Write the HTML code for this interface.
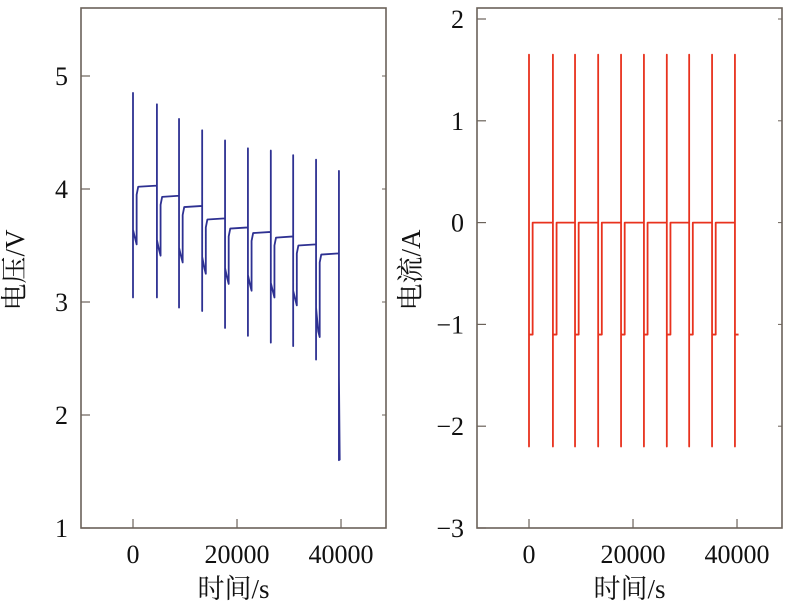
<!DOCTYPE html>
<html><head><meta charset="utf-8">
<style>
html,body{margin:0;padding:0;background:#fff;}
svg{display:block;}
text{font-family:"Liberation Serif","Noto Serif CJK SC",serif;fill:#111;}
</style></head>
<body>
<svg id="c" width="791" height="611"></svg>
<script>
const pulseTimes=[0,4600,8850,13300,17700,22100,26500,30800,35200,39600];
const vPeaks=[4.85,4.75,4.62,4.52,4.43,4.36,4.34,4.30,4.26,4.16];
const vMins=[3.04,3.04,2.95,2.92,2.77,2.70,2.64,2.61,2.49,1.6];
const vStarts=[3.64,3.55,3.48,3.40,3.30,3.24,3.17,3.10,2.95,2.35];
const vDips=[3.51,3.41,3.35,3.25,3.16,3.10,3.04,2.97,2.69,1.6];
const vRest=[4.03,3.94,3.85,3.74,3.66,3.62,3.58,3.51,3.43];
const iPeak=1.65, iMin=-2.2, iDis=-1.1, iRest=0;
const xTicks=[0,20000,40000];
const vTicks=[1,2,3,4,5];
const iTicks=[-3,-2,-1,0,1,2];
const dischargeLen=700;
const lastDischargeLen=150;

const NS="http://www.w3.org/2000/svg";
const svg=document.getElementById('c');
function mk(tag,attrs,parent){const e=document.createElementNS(NS,tag);for(const k in attrs)e.setAttribute(k,attrs[k]);(parent||svg).appendChild(e);return e;}
function lin(d0,d1,r0,r1){return v=>r0+(v-d0)*(r1-r0)/(d1-d0);}
const axisCol="#6b625a";

function panel(name,L,R,T,B,xs,ys,yTicks,title,color,pts){
  const g=mk('g',{});
  
  
  const box=mk('rect',{x:L,y:T,width:R-L,height:B-T,fill:'none',stroke:axisCol,'stroke-width':1.6},g);
  
  
  yTicks.forEach(v=>{
    const y=ys(v);
    const t=mk('line',{x1:L,x2:L+9,y1:y,y2:y,stroke:axisCol,'stroke-width':1.2},g);
    
    
    mk('line',{x1:R,x2:R-4,y1:y,y2:y,stroke:axisCol,'stroke-width':1},g);
    const tx=mk('text',{x:L-13,y:y+9,'font-size':26,'text-anchor':'end'},g);
    tx.textContent=String(v).replace('-','−');
    
    
  });
  xTicks.forEach(v=>{
    const x=xs(v);
    const t=mk('line',{x1:x,x2:x,y1:B,y2:B-9,stroke:axisCol,'stroke-width':1.2},g);
    
    
    const tx=mk('text',{x:x,y:B+35,'font-size':26,'text-anchor':'middle'},g);
    tx.textContent=v;
    
    
  });
  const xt=mk('text',{x:(L+R)/2,y:B+70,'font-size':27,'text-anchor':'middle'},g);
  xt.textContent='时间/s';
  
  
  const cy=(T+B)/2+2, cx=L-57;
  const yt=mk('text',{x:cx,y:cy,'font-size':27,'text-anchor':'middle',transform:`rotate(-90 ${cx} ${cy})`},g);
  yt.textContent=title;
  
  
  const d=pts.map((p,i)=>(i?'L':'M')+xs(p[0]).toFixed(2)+','+ys(p[1]).toFixed(2)).join(' ');
  const path=mk('path',{d:d,fill:'none',stroke:color,'stroke-width':1.8,'stroke-linejoin':'round'},g);
  
  
}

const vp=[];
pulseTimes.forEach((t,i)=>{
  if(i===0){vp.push([t,4.15]);}
  else vp.push([t,vRest[i-1]]);
  vp.push([t,vPeaks[i]]);vp.push([t,vMins[i]]);vp.push([t,vStarts[i]]);
  const dl=(i<vRest.length)?dischargeLen:lastDischargeLen;
  if(i<vRest.length) vp.push([t+dl*0.6,vDips[i]+0.05]);
  vp.push([t+dl,vDips[i]]);
  if(i<vRest.length){
    vp.push([t+dl,vRest[i]-0.08]);
    vp.push([t+dl+300,vRest[i]-0.01]);
    vp.push([pulseTimes[i+1],vRest[i]]);
  }
});
const ip=[[pulseTimes[0],iRest]];
pulseTimes.forEach((t,i)=>{
  ip.push([t,iRest]);ip.push([t,iPeak]);ip.push([t,iMin]);ip.push([t,iDis]);
  ip.push([t+dischargeLen,iDis]);
  if(i<pulseTimes.length-1){ip.push([t+dischargeLen,iRest]);}
});

panel('voltage-panel',81,386,8,528,lin(-10000,48650,81,386),lin(1,5,528,76),vTicks,'电压/V','#2e3192',vp);
panel('current-panel',477,782,8,528,lin(-10000,48650,477,782),lin(-3,2,528,19),iTicks,'电流/A','#e8321e',ip);
</script>
</body></html>
